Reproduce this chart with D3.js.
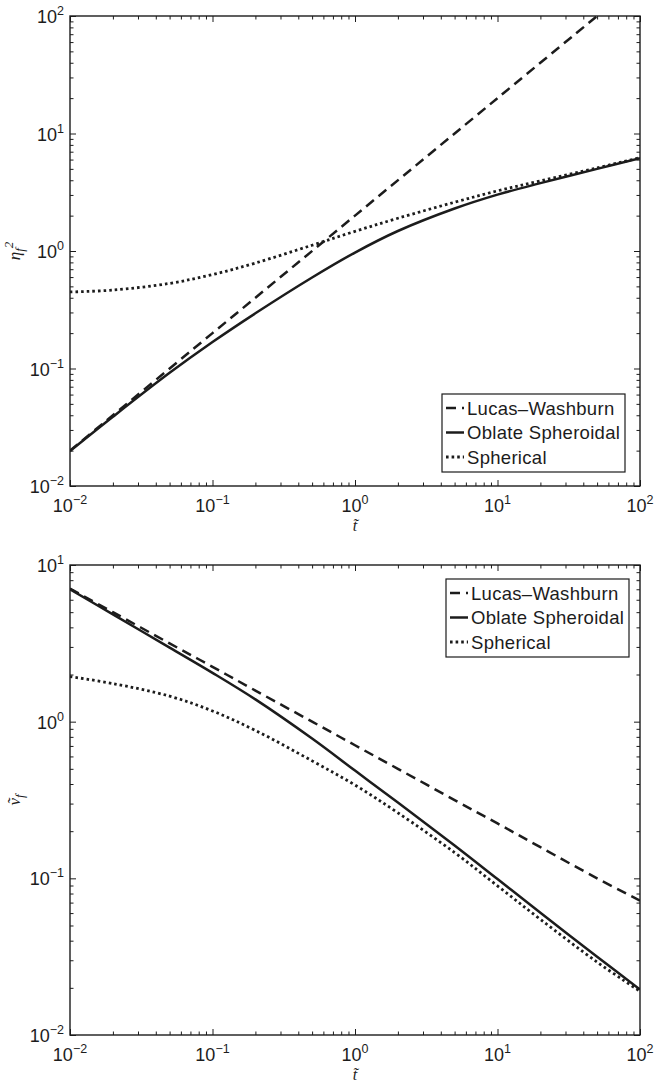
<!DOCTYPE html>
<html>
<head>
<meta charset="utf-8">
<script src="https://cdn.jsdelivr.net/npm/d3@7"></script>
<style>
  body { margin: 0; background: #fff; }
  svg text { font-family: "Liberation Sans", Arial, Helvetica, sans-serif; fill: #1c1c1c; }
</style>
</head>
<body>
<div id="chart"></div>
<script>

// time samples
var tVals = [0.01, 0.02, 0.05, 0.1, 0.2, 0.5, 1, 2, 5, 10, 20, 50, 100];

// top panel: eta_f^2
var lwT = [0.01, 0.1, 1, 10, 50];
var etaLW = [0.02, 0.2, 2, 20, 100];
var etaOblate = [0.0198, 0.0388, 0.0918, 0.168, 0.295, 0.595, 0.97, 1.48, 2.3, 3.02, 3.78, 5.0, 6.15];
var etaSpherical = [0.448, 0.465, 0.53, 0.63, 0.79, 1.12, 1.47, 1.9, 2.6, 3.25, 3.95, 5.1, 6.22];

// bottom panel: v_f
var vLW = [7.07, 5.0, 3.16, 2.24, 1.58, 1.0, 0.707, 0.5, 0.316, 0.224, 0.158, 0.1, 0.072];
var vOblate = [7.0, 4.84, 2.97, 2.05, 1.387, 0.78, 0.487, 0.305, 0.162, 0.0989, 0.0603, 0.0316, 0.0195];
var vSpherical = [1.94, 1.75, 1.455, 1.17, 0.879, 0.562, 0.394, 0.262, 0.146, 0.0895, 0.0547, 0.0292, 0.019];

var legendNames = ["Lucas\u2013Washburn", "Oblate Spheroidal", "Spherical"];
var xDomain = [0.01, 100];

var W = 656, H = 1083;
var ink = "#1c1c1c";
var styles = [
  { dash: "10,6", width: 2.5 },
  { dash: null, width: 2.5 },
  { dash: "2.6,3", width: 2.8 }
];

var svg = d3.select("#chart").append("svg")
  .attr("width", W)
  .attr("height", H);

var left = 70, right = 640;

function powLabel(sel, exp) {
  sel.append("tspan").text("10");
  sel.append("tspan")
    .attr("dy", -8)
    .style("font-size", "12.5px")
    .text(exp < 0 ? "\u2212" + (-exp) : exp);
}

function drawPanel(id, top, bottom, yDomain, series, legendTop, legendLeft) {
  var g = svg.append("g");
  var x = d3.scaleLog().domain(xDomain).range([left, right]);
  var y = d3.scaleLog().domain(yDomain).range([bottom, top]);

  g.append("clipPath").attr("id", "clip" + id)
    .append("rect")
    .attr("x", left).attr("y", top)
    .attr("width", right - left).attr("height", bottom - top);

  // ticks on all four sides, pointing in
  var xt = x.ticks();
  var yt = y.ticks();
  function isMajor(v) { return Math.abs(Math.log10(v) - Math.round(Math.log10(v))) < 1e-9; }

  function addAxis(axisFn, scale, vals, len, tr) {
    var a = g.append("g")
      .attr("transform", tr)
      .call(axisFn(scale).tickValues(vals).tickSizeInner(-len).tickSizeOuter(0).tickFormat(""));
    a.select(".domain").remove();
    a.selectAll("line").attr("stroke", ink).attr("stroke-width", 1);
  }
  var xMaj = xt.filter(isMajor), xMin = xt.filter(function(v) { return !isMajor(v); });
  var yMaj = yt.filter(isMajor), yMin = yt.filter(function(v) { return !isMajor(v); });

  addAxis(d3.axisBottom, x, xMaj, 6, "translate(0," + bottom + ")");
  addAxis(d3.axisBottom, x, xMin, 3.5, "translate(0," + bottom + ")");
  addAxis(d3.axisTop, x, xMaj, 6, "translate(0," + top + ")");
  addAxis(d3.axisTop, x, xMin, 3.5, "translate(0," + top + ")");
  addAxis(d3.axisLeft, y, yMaj, 6, "translate(" + left + ",0)");
  addAxis(d3.axisLeft, y, yMin, 3.5, "translate(" + left + ",0)");
  addAxis(d3.axisRight, y, yMaj, 6, "translate(" + right + ",0)");
  addAxis(d3.axisRight, y, yMin, 3.5, "translate(" + right + ",0)");

  // tick labels
  xMaj.forEach(function(v) {
    var t = g.append("text")
      .attr("x", x(v)).attr("y", bottom + 26)
      .attr("text-anchor", "middle")
      .style("font-size", "18px");
    powLabel(t, Math.round(Math.log10(v)));
  });
  yMaj.forEach(function(v) {
    var t = g.append("text")
      .attr("x", 64).attr("y", y(v) + 7)
      .attr("text-anchor", "end")
      .style("font-size", "18px");
    powLabel(t, Math.round(Math.log10(v)));
  });

  // curves
  var line = d3.line()
    .x(function(d) { return x(d[0]); })
    .y(function(d) { return y(d[1]); })
    .curve(d3.curveCatmullRom.alpha(0.5));

  series.forEach(function(s, i) {
    var pts = s.t.map(function(tv, j) { return [tv, s.v[j]]; });
    g.append("path")
      .attr("d", line(pts))
      .attr("fill", "none")
      .attr("stroke", ink)
      .attr("stroke-width", styles[i].width)
      .attr("stroke-dasharray", styles[i].dash)
      .attr("clip-path", "url(#clip" + id + ")");
  });

  // frame
  g.append("rect")
    .attr("x", left).attr("y", top)
    .attr("width", right - left).attr("height", bottom - top)
    .attr("fill", "none")
    .attr("stroke", ink)
    .attr("stroke-width", 1.4);

  // legend
  var lg = g.append("g").attr("transform", "translate(" + legendLeft + "," + legendTop + ")");
  lg.append("rect")
    .attr("width", 183).attr("height", 78)
    .attr("fill", "#fff")
    .attr("stroke", ink)
    .attr("stroke-width", 1.2);
  legendNames.forEach(function(name, i) {
    var cy = 14 + i * 24.5;
    lg.append("line")
      .attr("x1", 4).attr("x2", 22)
      .attr("y1", cy).attr("y2", cy)
      .attr("stroke", ink)
      .attr("stroke-width", styles[i].width)
      .attr("stroke-dasharray", styles[i].dash);
    lg.append("text")
      .attr("x", 25).attr("y", cy + 6.5)
      .style("font-size", "18.5px")
      .style("letter-spacing", "0.3px")
      .text(name);
  });

  // x title
  g.append("text")
    .attr("x", (left + right) / 2).attr("y", bottom + 45)
    .attr("text-anchor", "middle")
    .style("font-family", "'Liberation Serif', 'Times New Roman', serif")
    .style("font-style", "italic")
    .style("font-size", "16px")
    .text("t\u0303");

  return { x: x, y: y, g: g };
}

drawPanel("a", 16, 486, [0.01, 100], [
  { t: lwT, v: etaLW },
  { t: tVals, v: etaOblate },
  { t: tVals, v: etaSpherical }
], 394, 442);

drawPanel("b", 565, 1035, [0.01, 10], [
  { t: tVals, v: vLW },
  { t: tVals, v: vOblate },
  { t: tVals, v: vSpherical }
], 579, 446);

// y titles
var yt1 = svg.append("text")
  .attr("transform", "translate(20,251) rotate(-90)")
  .attr("text-anchor", "middle")
  .style("font-family", "'Liberation Serif', 'Times New Roman', serif")
  .style("font-style", "italic")
  .style("font-size", "17px");
yt1.append("tspan").text("\u03b7");
yt1.append("tspan").attr("dy", 4).style("font-size", "13px").text("f");
yt1.append("tspan").attr("dy", -11).style("font-size", "13px").text("2");

var yt2 = svg.append("text")
  .attr("transform", "translate(20,800) rotate(-90)")
  .attr("text-anchor", "middle")
  .style("font-family", "'Liberation Serif', 'Times New Roman', serif")
  .style("font-style", "italic")
  .style("font-size", "17px");
yt2.append("tspan").text("v\u0303");
yt2.append("tspan").attr("dy", 4).style("font-size", "13px").text("f");

</script>
</body>
</html>
